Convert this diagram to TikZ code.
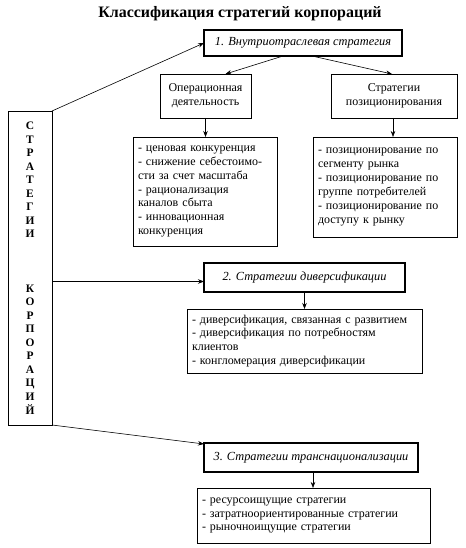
\documentclass[tikz,border=0pt]{standalone}
\usepackage{fontspec}
\setmainfont{Liberation Serif}
\usetikzlibrary{arrows.meta}
\begin{document}
\begin{tikzpicture}[x=1bp,y=-1bp,
  every node/.style={inner sep=0pt, outer sep=0pt},
  arr/.style={-{Stealth[length=6bp,width=4.5bp]}, line width=0.6bp},
  thinbox/.style={draw, line width=0.8bp, rectangle, font=\fontsize{12}{13.9}\selectfont},
  headbox/.style={draw, line width=2bp, rectangle, font=\fontsize{12.4}{14}\selectfont\itshape, anchor=north west},
  listbox/.style={thinbox, anchor=north west, align=left, inner xsep=5bp}
]
\useasboundingbox (0,0) rectangle (466,548);

\node[font=\fontsize{16}{18}\selectfont\bfseries] (title) at (240,14) {Классификация стратегий корпораций};

\node[thinbox, anchor=north west, minimum width=44bp, minimum height=314bp, align=center,
  font=\fontsize{11.5}{13.6}\selectfont\bfseries] (left) at (8,111)
  {С\\Т\\Р\\А\\Т\\Е\\Г\\И\\И\\ \\ \\ \\К\\О\\Р\\П\\О\\Р\\А\\Ц\\И\\Й};

\node[headbox, minimum width=198bp, minimum height=26bp] (b1) at (204,30) {1. Внутриотраслевая стратегия};
\node[headbox, minimum width=201bp, minimum height=29bp] (b2) at (204,263) {2. Стратегии диверсификации};
\node[headbox, minimum width=214bp, minimum height=29bp] (b3) at (204,443) {3. Стратегии транснационализации};

\node[thinbox, anchor=north west, minimum width=91bp, minimum height=44bp, align=center] (op) at (160,74)
  {Операционная\\деятельность};
\node[thinbox, anchor=north west, minimum width=126bp, minimum height=44bp, align=center] (pos) at (331,74)
  {Стратегии\\позиционирования};

\node[listbox, text width=134bp, minimum height=109bp] (l1) at (133,137)
  {- ценовая конкуренция\\- снижение себестоимо-\\сти за счет масштаба\\- рационализация\\каналов сбыта\\- инновационная\\конкуренция};
\node[listbox, text width=134bp, minimum height=100bp] (l2) at (313,137)
  {- позиционирование по\\сегменту рынка\\- позиционирование по\\группе потребителей\\- позиционирование по\\доступу к рынку};
\node[listbox, text width=225bp, minimum height=64bp] (l3) at (187,309)
  {- диверсификация, связанная с развитием\\- диверсификация по потребностям\\клиентов\\- конгломерация диверсификации};
\node[listbox, text width=223bp, minimum height=55bp] (l4) at (197,488)
  {- ресурсоищущие стратегии\\- затратноориентированные стратегии\\- рыночноищущие стратегии};

\coordinate (b2in) at ([yshift=-4bp]b2.west);
\coordinate (b3in) at ([yshift=-1bp]b3.north west);
\draw[arr] (left.north east) -- (b1.west);
\draw[arr] (left.east |- b2in) -- (b2in);
\draw[arr] (left.south east) -- (b3in);
\draw[arr] ([xshift=-20bp]b1.south) -- ([xshift=20bp]op.north);
\draw[arr] ([xshift=9bp]b1.south) -- ([xshift=-2bp]pos.north);
\draw[arr] (op.south) -- (op.south |- l1.north);
\draw[arr] ([xshift=-1bp]pos.south) -- ([xshift=-1bp]pos.south |- l2.north);
\draw[arr] (b2.south) -- (b2.south |- l3.north);
\draw[arr] ([xshift=2bp]b3.south) -- ([xshift=2bp]b3.south |- l4.north);
\end{tikzpicture}
\end{document}
